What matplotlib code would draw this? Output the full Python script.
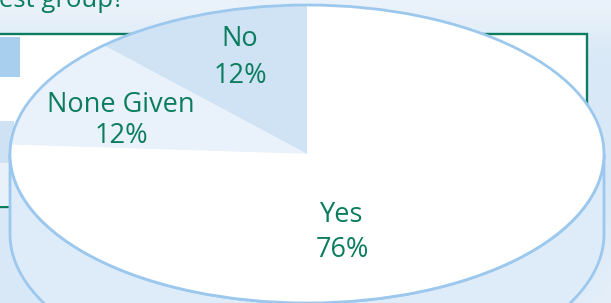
import numpy as np
import matplotlib.pyplot as plt
from matplotlib.patches import Ellipse, Rectangle, Polygon

# answers (percent of the group)
answers = ["No", "None Given", "Yes"]
percents = [12, 12, 76]
slice_colors = ["#cfe3f4", "#e9f2fb", "#ffffff"]

# label placement in pixels: centre x, baseline of name, baseline of percent
label_pos = [(240, 46, 83), (121, 112, 143), (342, 222, 257)]

W, H = 611, 303
green = "#0b7d5e"
edge_blue = "#9cc8ee"
side_blue = "#deebf8"

plt.rcParams['font.family'] = ['Open Sans', 'DejaVu Sans']

fig = plt.figure(figsize=(W / 100, H / 100), dpi=100)

# background layer, pixel coordinates (y down)
bg = fig.add_axes([0, 0, 1, 1])
bg.set_xlim(0, W)
bg.set_ylim(H, 0)
bg.axis('off')

# soft blue backdrop, lighter along the top and bottom right
gy, gx = np.mgrid[0:1:80j, 0:1:160j]
light = 0.45 * np.exp(-((gy - 0.0) / 0.12) ** 2) + 0.5 * np.clip((gx - 0.85) * 4, 0, 1) * np.clip((gy - 0.6) * 2.5, 0, 1)
base = np.array([0.85, 0.91, 0.965])
img = base[None, None, :] * (1 - light[..., None]) + light[..., None]
bg.imshow(img, extent=(0, W, H, 0), aspect='auto', zorder=0)

# box behind the pie
bg.add_patch(Rectangle((-5, 34), 592, 173, facecolor='white', edgecolor=green, lw=1.7, zorder=1))
bg.add_patch(Rectangle((-2, 37), 22, 40, facecolor='#a9cfee', lw=0, zorder=2))
bg.add_patch(Rectangle((-2, 121), 16, 42, facecolor='#cfe2f3', lw=0, zorder=2))
bg.add_patch(Rectangle((-2, 163), 16, 43, facecolor='#e8f1fa', lw=0, zorder=2))

bg.text(-1, 7, "est group?", color=green, fontsize=18.5, va='baseline', ha='left', zorder=3)

# pie layer: unit circle stretched into the ellipse by the axis limits
cx, cy, rx, ry = 307, 154, 297, 149
depth = 80 / ry

ax = fig.add_axes([0, 0, 1, 1])
ax.patch.set_alpha(0)

t = np.linspace(np.pi, 2 * np.pi, 300)
side = np.vstack([np.c_[np.cos(t), np.sin(t)],
                  np.c_[np.cos(t[::-1]), np.sin(t[::-1]) - depth]])
ax.add_patch(Polygon(side, closed=True, facecolor=side_blue, edgecolor=edge_blue, lw=2.0, zorder=1))

wedges, _ = ax.pie(percents, colors=slice_colors, startangle=90, counterclock=True,
                   radius=1, wedgeprops=dict(linewidth=0))
for w in wedges:
    w.set_zorder(2)
ax.add_patch(Ellipse((0, 0), 2, 2, fill=False, edgecolor=edge_blue, lw=2.0, zorder=3))

ax.set_aspect('auto')
ax.set_xlim((0 - cx) / rx, (W - cx) / rx)
ax.set_ylim((cy - H) / ry, cy / ry)
ax.axis('off')

for name, pct, (lx, b1, b2) in zip(answers, percents, label_pos):
    ax.text(lx, b1, name, transform=bg.transData, color=green, fontsize=19.5,
            ha='center', va='baseline', zorder=5)
    ax.text(lx, b2, f"{pct}%", transform=bg.transData, color=green, fontsize=19.5,
            ha='center', va='baseline', zorder=5)

fig.savefig("out.png", dpi=100)
